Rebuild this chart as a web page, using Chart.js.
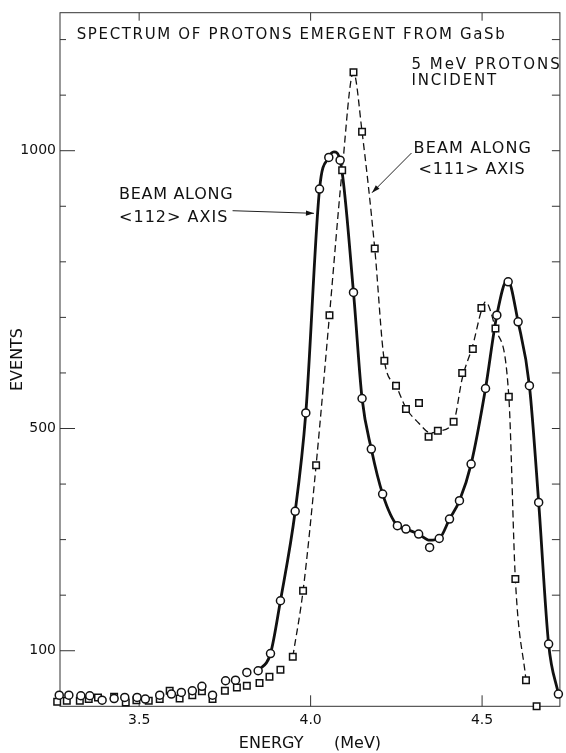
<!DOCTYPE html>
<html>
<head>
<meta charset="utf-8">
<script src="https://cdn.jsdelivr.net/npm/chart.js@4/dist/chart.umd.min.js"></script>
<style>
html,body{margin:0;padding:0;background:#fff;}
#wrap{width:566px;height:753px;position:relative;}
</style>
</head>
<body>
<div id="wrap"><canvas id="c" width="566" height="753"></canvas></div>
<script>
// ---- Measured points, beam along <112> axis (circles) ----
const e112 = [3.267,3.295,3.330,3.356,3.392,3.427,3.458,3.494,3.518,3.560,3.594,3.623,3.655,3.683,3.714,3.752,3.781,3.814,3.847,3.883,3.912,3.955,3.986,4.026,4.053,4.086,4.125,4.150,4.177,4.210,4.253,4.278,4.315,4.347,4.375,4.405,4.434,4.468,4.510,4.543,4.576,4.605,4.638,4.665,4.694,4.7225];
const n112 = [20,20,19,19,11,14,16,16,13,20,22,25,28,36,20,46,47,61,64,95,190,351,528,931,988,983,745,554,463,382,325,319,310,286,302,337,370,436,572,704,764,692,577,367,112,22];

// ---- Measured points, beam along <111> axis (squares) ----
const e111 = [3.261,3.289,3.327,3.353,3.380,3.427,3.461,3.492,3.528,3.560,3.589,3.618,3.655,3.683,3.714,3.750,3.785,3.814,3.851,3.880,3.912,3.948,3.978,4.016,4.055,4.092,4.125,4.150,4.187,4.215,4.249,4.278,4.316,4.344,4.371,4.417,4.442,4.473,4.498,4.539,4.578,4.597,4.628,4.659];
const n111 = [8,10,10,13,16,17,7,11,10,13,28,14,20,27,13,28,34,37,42,53,66,89,208,434,704,965,1141,1034,824,622,577,535,546,485,496,512,600,643,717,680,557,229,47,0];

// ---- Hand-drawn curves ----
const curveE112 = [3.847,3.883,3.912,3.955,3.986,4.026,4.053,4.068,4.086,4.125,4.150,4.177,4.210,4.253,4.278,4.315,4.347,4.375,4.405,4.434,4.468,4.510,4.543,4.574,4.605,4.638,4.665,4.694,4.7225];
const curveN112 = [64,95,190,351,528,931,988,998,983,745,554,463,382,325,319,310,299,302,337,370,436,572,704,768,692,577,367,112,22];
const curveE111 = [3.948,3.978,4.016,4.055,4.092,4.125,4.150,4.187,4.215,4.249,4.278,4.315,4.350,4.371,4.417,4.442,4.473,4.498,4.510,4.539,4.578,4.597,4.628];
const curveN111 = [89,208,434,704,965,1141,1034,824,622,577,537,510,492,495,512,590,650,712,728,680,557,229,47];

// ---- Axes ----
const xMin = 3.2692, xMax = 4.7269;
const yMin = 0, yMax = 1248.4;
const xTicks = [3.5, 4.0, 4.5];
const xTickLabels = ['3.5', '4.0', '4.5'];
const yTicks = [100, 500, 1000];
const yTickLabels = ['100', '500', '1000'];
const yMinorTicks = [100,200,300,400,500,600,700,800,900,1000,1100,1200];

// ---- Annotations (data coordinates) ----
const noteTexts  = ['SPECTRUM OF PROTONS EMERGENT FROM GaSb', '5 MeV PROTONS', 'INCIDENT', 'BEAM ALONG', '<111> AXIS', 'BEAM ALONG', '<112> AXIS'];
const noteLeftE  = [3.3177, 4.2942, 4.2942, 4.3000, 4.3146, 3.4414, 3.4414];
const noteRightE = [4.5663, 4.7260, 4.5410, 4.6427, 4.6244, 3.7724, 3.7571];
const noteN      = [1211.8, 1157, 1128.5, 1007.2, 968.3, 923.3, 882.5];
const noteSize   = [15, 15, 15, 16, 16, 16, 16];
const arrowFromE = [4.2942, 3.7724];
const arrowFromN = [995.9, 892];
const arrowToE   = [4.1790, 4.0097];
const arrowToN   = [924.4, 887.3];

const INK = '#111';
const FONT = '"DejaVu Sans", "Liberation Sans", sans-serif';

const toPts = (xs, ys) => xs.map((x, i) => ({x: x, y: ys[i]}));

const framePlugin = {
  id: 'frame',
  beforeDatasetsDraw(chart) {
    const {ctx, chartArea: a, scales: {x, y}} = chart;
    ctx.save();
    ctx.strokeStyle = '#333';
    ctx.lineWidth = 1;
    ctx.strokeRect(a.left, a.top, a.right - a.left, a.bottom - a.top);
    ctx.beginPath();
    xTicks.forEach(v => {
      const px = x.getPixelForValue(v);
      ctx.moveTo(px, a.bottom); ctx.lineTo(px, a.bottom - 11);
      ctx.moveTo(px, a.top); ctx.lineTo(px, a.top + 8);
    });
    yMinorTicks.forEach(v => {
      const py = y.getPixelForValue(v);
      const len = yTicks.includes(v) ? 15 : 6;
      ctx.moveTo(a.left, py); ctx.lineTo(a.left + len, py);
      ctx.moveTo(a.right, py); ctx.lineTo(a.right - 8, py);
    });
    ctx.stroke();
    ctx.restore();
  }
};

function drawFitted(ctx, text, x0, x1, yMid, size) {
  ctx.font = size + 'px ' + FONT;
  ctx.textAlign = 'left';
  ctx.textBaseline = 'alphabetic';
  const base = yMid + size * 0.365;
  const target = x1 - x0;
  const w0 = ctx.measureText(text).width;
  if ('letterSpacing' in ctx) {
    const ls = (target - w0) / Math.max(1, text.length - 1);
    ctx.letterSpacing = ls.toFixed(2) + 'px';
    ctx.fillText(text, x0, base);
    ctx.letterSpacing = '0px';
  } else {
    ctx.save();
    ctx.translate(x0, base);
    ctx.scale(target / w0, 1);
    ctx.fillText(text, 0, 0);
    ctx.restore();
  }
}

const notesPlugin = {
  id: 'notes',
  afterDatasetsDraw(chart) {
    const {ctx, scales: {x, y}} = chart;
    ctx.save();
    ctx.fillStyle = INK;
    noteTexts.forEach((t, i) => {
      drawFitted(ctx, t, x.getPixelForValue(noteLeftE[i]), x.getPixelForValue(noteRightE[i]), y.getPixelForValue(noteN[i]), noteSize[i]);
    });
    ctx.strokeStyle = '#222';
    ctx.lineWidth = 1;
    arrowFromE.forEach((e, i) => {
      const x0 = x.getPixelForValue(e), y0 = y.getPixelForValue(arrowFromN[i]);
      const x1 = x.getPixelForValue(arrowToE[i]), y1 = y.getPixelForValue(arrowToN[i]);
      ctx.beginPath(); ctx.moveTo(x0, y0); ctx.lineTo(x1, y1); ctx.stroke();
      const ang = Math.atan2(y1 - y0, x1 - x0);
      const L = 8, W = 2.6;
      ctx.beginPath();
      ctx.moveTo(x1, y1);
      ctx.lineTo(x1 - L * Math.cos(ang) + W * Math.sin(ang), y1 - L * Math.sin(ang) - W * Math.cos(ang));
      ctx.lineTo(x1 - L * Math.cos(ang) - W * Math.sin(ang), y1 - L * Math.sin(ang) + W * Math.cos(ang));
      ctx.closePath();
      ctx.fill();
    });
    ctx.restore();
  }
};

new Chart(document.getElementById('c'), {
  type: 'scatter',
  data: {
    datasets: [
      {
        label: 'Beam along <112> axis (data)',
        data: toPts(e112, n112),
        showLine: false,
        pointStyle: 'circle',
        pointRadius: 4,
        pointBorderWidth: 1.5,
        pointBorderColor: INK,
        pointBackgroundColor: '#fff',
        clip: false,
        order: 0
      },
      {
        label: 'Beam along <111> axis (data)',
        data: toPts(e111, n111),
        showLine: false,
        pointStyle: 'rect',
        pointRadius: 4.6,
        pointBorderWidth: 1.5,
        pointBorderColor: INK,
        pointBackgroundColor: '#fff',
        clip: false,
        order: 0
      },
      {
        label: 'Beam along <112> axis',
        data: toPts(curveE112, curveN112),
        showLine: true,
        pointRadius: 0,
        borderColor: INK,
        borderWidth: 2.8,
        cubicInterpolationMode: 'monotone',
        order: 1
      },
      {
        label: 'Beam along <111> axis',
        data: toPts(curveE111, curveN111),
        showLine: true,
        pointRadius: 0,
        borderColor: INK,
        borderWidth: 1.3,
        borderDash: [7, 4],
        cubicInterpolationMode: 'monotone',
        order: 1
      }
    ]
  },
  options: {
    responsive: false,
    devicePixelRatio: 1,
    animation: false,
    layout: {padding: {left: 0, right: 4, top: 12.7, bottom: 0}},
    plugins: {legend: {display: false}, tooltip: {enabled: false}},
    scales: {
      x: {
        type: 'linear',
        min: xMin, max: xMax,
        afterFit: s => { s.height = 46.7; },
        afterBuildTicks: s => { s.ticks = xTicks.map(v => ({value: v})); },
        grid: {display: false, drawTicks: false},
        border: {display: false},
        ticks: {
          padding: 6,
          color: INK,
          font: {family: FONT, size: 14},
          maxRotation: 0,
          callback: (v) => xTickLabels[xTicks.indexOf(v)]
        },
        title: {
          display: true,
          text: 'ENERGY      (MeV)',
          color: INK,
          font: {family: FONT, size: 16},
          padding: {top: 0, bottom: 0}
        }
      },
      y: {
        type: 'linear',
        min: yMin, max: yMax,
        afterFit: s => { s.width = 60; },
        afterBuildTicks: s => { s.ticks = yTicks.map(v => ({value: v})); },
        grid: {display: false, drawTicks: false},
        border: {display: false},
        ticks: {
          padding: 4,
          color: INK,
          font: {family: FONT, size: 14},
          callback: (v) => yTickLabels[yTicks.indexOf(v)]
        },
        title: {
          display: true,
          text: 'EVENTS',
          color: INK,
          font: {family: FONT, size: 16},
          padding: {top: 8, bottom: 0}
        }
      }
    }
  },
  plugins: [framePlugin, notesPlugin]
});
</script>
</body>
</html>
